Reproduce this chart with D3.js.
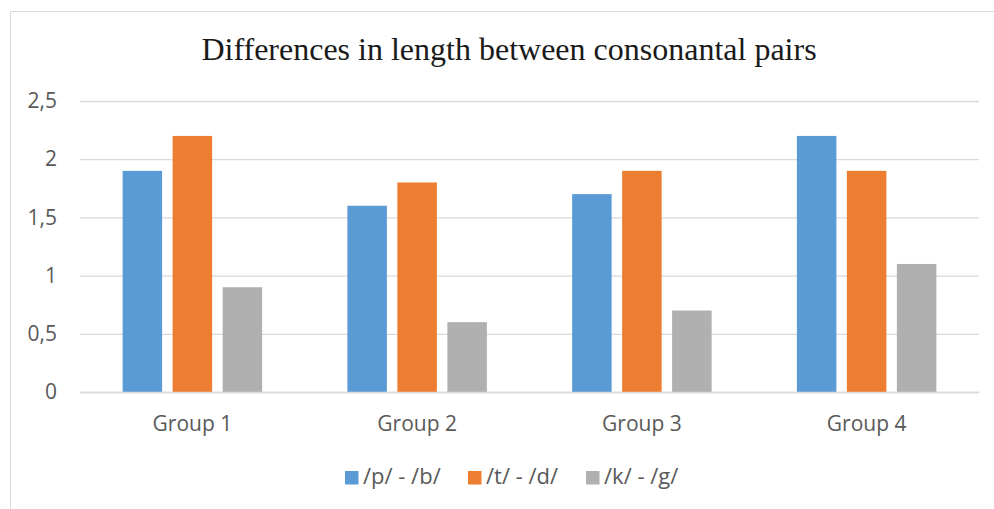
<!DOCTYPE html>
<html>
<head>
<meta charset="utf-8">
<script src="https://cdn.jsdelivr.net/npm/d3@7"></script>
<style>
  body { margin: 0; background: #fff; }
  svg { display: block; }
</style>
</head>
<body>
<div id="chart"></div>
<script>
const groups = ["Group 1", "Group 2", "Group 3", "Group 4"];
const seriesNames = ["/p/ - /b/", "/t/ - /d/", "/k/ - /g/"];
const pbValues = [1.9, 1.6, 1.7, 2.2];
const tdValues = [2.2, 1.8, 1.9, 1.9];
const kgValues = [0.9, 0.6, 0.7, 1.1];
const yTicks = [0, 0.5, 1, 1.5, 2, 2.5];
const colors = ["#5b9bd5", "#ed7d31", "#b0b0b0"];

const width = 994;
const height = 509;
const margin = { top: 101, right: 15, bottom: 117, left: 80 };
const innerWidth = width - margin.left - margin.right;
const innerHeight = height - margin.top - margin.bottom;
const labelFont = "Open Sans, sans-serif";

const rows = groups.map((group, i) => ({
  group,
  values: [pbValues[i], tdValues[i], kgValues[i]]
}));

const svg = d3.select("#chart")
  .append("svg")
  .attr("width", width)
  .attr("height", height);

// chart frame: only the top and left edges are inside the picture
const frame = svg.append("g")
  .attr("stroke", "#d9d9d9")
  .attr("stroke-width", 1);
frame.append("line")
  .attr("x1", 10.5).attr("y1", 11.5)
  .attr("x2", width).attr("y2", 11.5);
frame.append("line")
  .attr("x1", 10.5).attr("y1", 11.5)
  .attr("x2", 10.5).attr("y2", height);

svg.append("text")
  .attr("x", 509)
  .attr("y", 60)
  .attr("text-anchor", "middle")
  .attr("font-family", "Liberation Serif, Times New Roman, serif")
  .attr("font-size", 32)
  .attr("fill", "#1a1a1a")
  .text("Differences in length between consonantal pairs");

const chart = svg.append("g")
  .attr("transform", `translate(${margin.left},${margin.top})`);

const x = d3.scaleBand()
  .domain(groups)
  .range([0, innerWidth]);

const y = d3.scaleLinear()
  .domain([0, 2.5])
  .range([innerHeight, 0]);

const barWidth = 39.5;
const barStep = 50;

chart.append("g")
  .call(d3.axisLeft(y).tickValues(yTicks).tickSize(-innerWidth).tickFormat(""))
  .call((g) => g.select(".domain").remove())
  .call((g) => g.selectAll("line")
    .attr("stroke", "#d9d9d9")
    .attr("stroke-width", 1.3));

chart.append("g")
  .call(d3.axisLeft(y).tickValues(yTicks).tickSize(0).tickPadding(23)
    .tickFormat((d) => String(d).replace(".", ",")))
  .call((g) => g.select(".domain").remove())
  .call((g) => g.selectAll("text")
    .attr("font-family", labelFont)
    .attr("font-size", 21)
    .attr("fill", "#595959"));

const groupG = chart.selectAll("g.group")
  .data(rows)
  .enter()
  .append("g")
  .attr("class", "group")
  .attr("transform", (d) => `translate(${x(d.group) + x.bandwidth() / 2},0)`);

groupG.selectAll("rect")
  .data((d) => d.values)
  .enter()
  .append("rect")
  .attr("x", (d, i) => (i - 1) * barStep - barWidth / 2)
  .attr("y", (d) => y(d))
  .attr("width", barWidth)
  .attr("height", (d) => innerHeight - y(d))
  .attr("fill", (d, i) => colors[i]);

chart.append("g")
  .attr("transform", `translate(0,${innerHeight})`)
  .call(d3.axisBottom(x).tickSize(0).tickPadding(24))
  .call((g) => g.select(".domain")
    .attr("stroke", "#d9d9d9")
    .attr("stroke-width", 1.3))
  .call((g) => g.selectAll("text")
    .attr("font-family", labelFont)
    .attr("font-size", 21)
    .attr("fill", "#595959"));

const legendX = [345, 468, 586];
const legend = svg.append("g")
  .attr("transform", "translate(0,471)");

seriesNames.forEach((name, i) => {
  const item = legend.append("g")
    .attr("transform", `translate(${legendX[i]},0)`);
  item.append("rect")
    .attr("width", 13.5)
    .attr("height", 13.5)
    .attr("fill", colors[i]);
  item.append("text")
    .attr("x", 18)
    .attr("y", 12.5)
    .attr("font-family", labelFont)
    .attr("font-size", 22)
    .attr("fill", "#595959")
    .text(name);
});
</script>
</body>
</html>
